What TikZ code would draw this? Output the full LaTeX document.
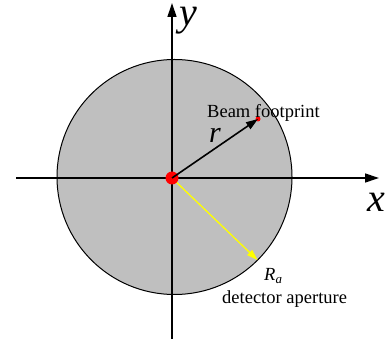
\documentclass[tikz,border=0pt]{standalone}
\usepackage{fontspec}
\setmainfont{Liberation Serif}
\usetikzlibrary{positioning,calc}
\usetikzlibrary{arrows.meta}
\definecolor{ApGray}{RGB}{191,191,191}
\definecolor{BeamRed}{RGB}{255,0,0}
\definecolor{ApYellow}{RGB}{255,255,0}
\tikzset{
  axis/.style={draw=black,line width=1.3pt,-{Triangle[length=14pt,width=9pt]}},
  radius arrow/.style={draw=black,line width=1.6pt,-{Triangle[length=12pt,width=8pt]}},
  aperture arrow/.style={draw=ApYellow,line width=1.3pt,-{Triangle[length=11pt,width=7pt]}},
  axislab/.style={font=\fontsize{40}{40}\selectfont\itshape,inner sep=0pt,text height=0.5em,anchor=base west},
  lab/.style={font=\fontsize{18.5}{18.5}\selectfont,inner sep=0pt},
}
\tikzset{dot/.style={circle,fill=BeamRed,inner sep=0pt}}

\begin{document}
\begin{tikzpicture}[x=1pt,y=-1pt]
\useasboundingbox (0,0) rectangle (391,347);
\coordinate(O)at(172,178);
\coordinate(C)at(174.5,177);
% detector aperture
\fill[ApGray](C)circle(117.5);
\draw[line width=1pt](C)circle(117.5);
% axes
\coordinate(xl)at(16,178);\coordinate(xr)at(379,178);
\coordinate(yb)at(172,339);\coordinate(yt)at(172,3);
\draw[axis](xl)--(xr);
\draw[axis](yb)--(yt);
\node[axislab](xlab)at(367,212){x};
\node[axislab](ylab)at(179,26){y};
% beam and aperture radius (y axis points down here)
\coordinate(rim)at($(C)+(45:117.5)$);
\draw[aperture arrow](O)--(rim);
\node[dot,minimum size=13pt](beam)at(O){};
\node[dot,minimum size=5pt](foot)at(258,119){};
\draw[radius arrow](O)--(foot.center);
\node[font=\fontsize{30}{30}\selectfont\itshape,inner sep=0pt,anchor=base west](r)at(209,143){r};
\node[lab,anchor=base west](footlab)at(207,118){Beam footprint};
\node[lab,anchor=base west](Ra)at(264,281){\itshape R\textsubscript{a}};
\node[lab,anchor=base west](aplab)at(222,304){detector aperture};
\end{tikzpicture}
\end{document}
